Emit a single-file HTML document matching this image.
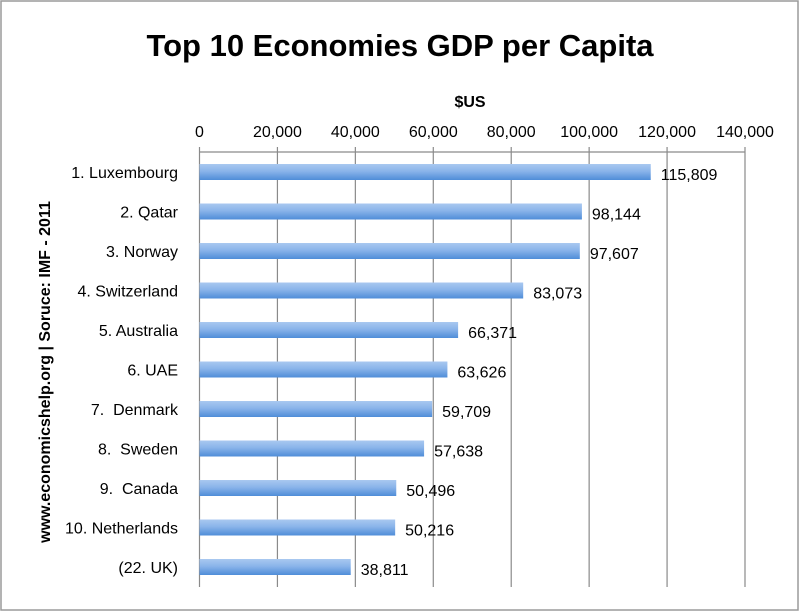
<!DOCTYPE html>
<html><head><meta charset="utf-8"><style>
body{margin:0;background:#fff}
svg{display:block;font-family:"Liberation Sans",sans-serif}
</style></head><body>
<svg id="c" width="800" height="612">
<defs><linearGradient id="g" x1="0" y1="0" x2="0" y2="1">
<stop offset="0" stop-color="#a9c8f0"/><stop offset="0.45" stop-color="#8ab4ea"/><stop offset="1" stop-color="#4f8dd8"/></linearGradient></defs>
<rect x="1" y="1" width="797" height="609" fill="#fff" stroke="#9a9a9a" stroke-width="1.5"/>
<text x="400" y="56" text-anchor="middle" font-size="31" font-weight="bold" fill="#000">Top 10 Economies GDP per Capita</text>
<text x="470" y="107" text-anchor="middle" font-size="16" font-weight="bold">$US</text>
<text transform="translate(50,372) rotate(-90)" text-anchor="middle" font-size="16" font-weight="bold">www.economicshelp.org | Soruce: IMF - 2011</text>
<g id="grid"></g><g id="bars"></g>
</svg>
<script>
const categories=["1. Luxembourg","2. Qatar","3. Norway","4. Switzerland","5. Australia","6. UAE","7.  Denmark","8.  Sweden","9.  Canada","10. Netherlands","(22. UK)"];
const values=[115809,98144,97607,83073,66371,63626,59709,57638,50496,50216,38811];
const ticks=[0,20000,40000,60000,80000,100000,120000,140000];
const NS="http://www.w3.org/2000/svg";
const x0=199.5,x1=745,plotTop=152,plotBottom=587,step=39.5,bh=16;
const xs=v=>x0+(v/140000)*(x1-x0);
const yc=i=>172+i*step;
function mk(t,a,p){const e=document.createElementNS(NS,t);for(const k in a)e.setAttribute(k,a[k]);p.appendChild(e);return e;}
const grid=document.getElementById('grid'),bars=document.getElementById('bars');
ticks.forEach(t=>{
 const l=mk('line',{x1:xs(t),x2:xs(t),y1:plotTop-5,y2:plotBottom,stroke:'#8a8a8a','stroke-width':1.2},grid);
 
 
 const tx=mk('text',{x:xs(t),y:137,'text-anchor':'middle','font-size':16},grid);
 tx.textContent=t.toLocaleString('en-US');
 
 
});
const ax=mk('line',{x1:x0,x2:x1,y1:plotTop,y2:plotTop,stroke:'#8a8a8a','stroke-width':1.2},grid);


values.forEach((v,i)=>{
 const r=mk('rect',{x:x0,y:yc(i)-bh/2,width:xs(v)-x0,height:bh,fill:'url(#g)'},bars);
 
 
 const c=mk('text',{x:178,y:yc(i)+6,'text-anchor':'end','font-size':16,style:'white-space:pre'},bars);
 c.textContent=categories[i];
 
 
 const vl=mk('text',{x:xs(v)+10,y:yc(i)+8,'font-size':16},bars);
 vl.textContent=v.toLocaleString('en-US');
 
 
});
</script>
</body></html>
